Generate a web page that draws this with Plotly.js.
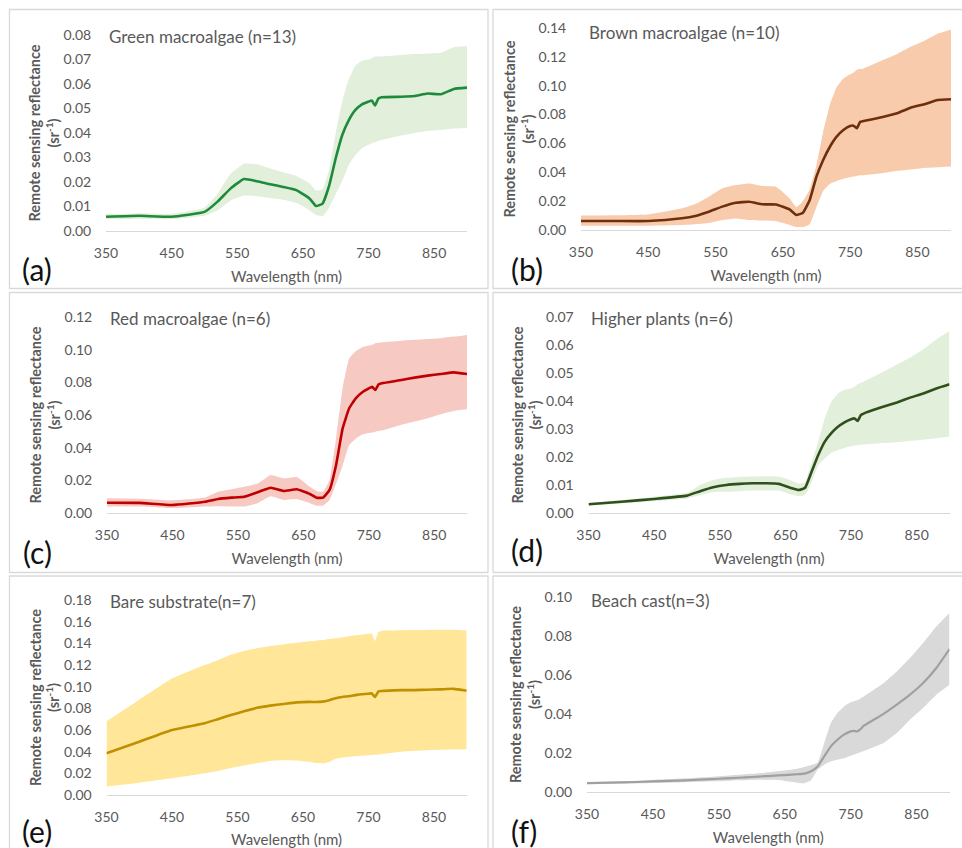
<!DOCTYPE html>
<html>
<head>
<meta charset="utf-8">
<script src="https://cdn.plot.ly/plotly-3.0.1.min.js"></script>
<style>html,body{margin:0;padding:0;background:#fff;}#chart{width:962px;height:848px;}</style>
</head>
<body>
<div id="chart"></div>
<script>
// Wavelength grid (nm)
const wavelength = [350,400,450,500,520,540,560,580,600,620,640,660,670,680,690,700,710,720,730,740,750,755,760,765,770,800,820,840,860,880,900];
const xTicks = [350,450,550,650,750,850];

// (a) Green macroalgae
const greenMean  = [.0058,.0062,.0058,.0078,.0120,.0174,.0212,.0203,.0191,.0180,.0167,.0133,.0102,.0112,.0185,.0297,.0392,.0453,.0494,.0517,.0528,.0533,.0512,.0541,.0546,.0548,.0551,.0561,.0558,.0580,.0585];
const greenUpper = [.0068,.0072,.0070,.0095,.0152,.0235,.0275,.0272,.0255,.0240,.0225,.0195,.0165,.0170,.0250,.0400,.0530,.0620,.0675,.0695,.0700,.0705,.0712,.0712,.0712,.0718,.0722,.0725,.0728,.0750,.0755];
const greenLower = [.0048,.0050,.0048,.0062,.0085,.0125,.0145,.0142,.0135,.0128,.0115,.0085,.0065,.0060,.0095,.0150,.0205,.0270,.0310,.0338,.0352,.0358,.0362,.0368,.0372,.0390,.0400,.0408,.0412,.0418,.0420];

// (b) Brown macroalgae
const brownMean  = [.0062,.0062,.0062,.0081,.0097,.0127,.0162,.0189,.0196,.0178,.0177,.0143,.0104,.0120,.0208,.0370,.0485,.0577,.0647,.0693,.0721,.0723,.0705,.0750,.0755,.0785,.0809,.0848,.0871,.0901,.0906];
const brownUpper = [.0100,.0102,.0108,.0150,.0180,.0230,.0289,.0312,.0323,.0305,.0300,.0220,.0160,.0200,.0280,.0450,.0680,.0870,.0990,.1050,.1080,.1090,.1110,.1115,.1120,.1180,.1220,.1270,.1310,.1360,.1390];
const brownLower = [.0030,.0030,.0030,.0035,.0040,.0048,.0069,.0080,.0069,.0065,.0060,.0035,.0020,.0020,.0040,.0160,.0270,.0320,.0340,.0355,.0365,.0370,.0375,.0380,.0380,.0395,.0410,.0420,.0430,.0435,.0440];

// (c) Red macroalgae
const redMean  = [.0063,.0062,.0049,.0069,.0086,.0094,.0100,.0127,.0155,.0135,.0145,.0116,.0094,.0094,.0141,.0294,.0518,.0641,.0702,.0739,.0763,.0773,.0753,.0788,.0794,.0814,.0829,.0841,.0851,.0861,.0851];
const redUpper = [.0090,.0088,.0078,.0095,.0130,.0145,.0160,.0180,.0233,.0212,.0220,.0160,.0135,.0130,.0200,.0457,.0765,.0947,.0990,.1015,.1025,.1030,.1040,.1042,.1045,.1055,.1060,.1065,.1070,.1080,.1090];
const redLower = [.0040,.0040,.0030,.0040,.0042,.0040,.0040,.0060,.0102,.0080,.0085,.0060,.0045,.0045,.0080,.0180,.0290,.0416,.0455,.0480,.0490,.0493,.0498,.0502,.0505,.0540,.0560,.0580,.0605,.0625,.0635];

// (d) Higher plants
const plantMean  = [.0031,.0040,.0050,.0062,.0078,.0092,.0100,.0104,.0106,.0106,.0104,.0088,.0082,.0090,.0148,.0207,.0255,.0285,.0308,.0324,.0335,.0338,.0329,.0350,.0356,.0380,.0395,.0412,.0427,.0445,.0460];
const plantUpper = [.0035,.0046,.0058,.0072,.0100,.0118,.0126,.0129,.0130,.0131,.0130,.0115,.0105,.0110,.0180,.0255,.0338,.0398,.0427,.0440,.0445,.0450,.0460,.0465,.0470,.0505,.0530,.0555,.0585,.0620,.0650];
const plantLower = [.0027,.0034,.0042,.0052,.0064,.0075,.0076,.0078,.0080,.0080,.0080,.0065,.0060,.0065,.0110,.0171,.0195,.0215,.0225,.0232,.0238,.0240,.0242,.0244,.0245,.0250,.0253,.0258,.0262,.0267,.0273];

// (e) Bare substrate
const bareMean  = [.0385,.0492,.0600,.0662,.0700,.0738,.0772,.0805,.0825,.0840,.0855,.0860,.0858,.0862,.0875,.0893,.0905,.0912,.0922,.0930,.0935,.0938,.0905,.0955,.0960,.0968,.0968,.0972,.0975,.0980,.0963];
const bareUpper = [.0680,.0880,.1075,.1200,.1245,.1295,.1330,.1355,.1375,.1390,.1405,.1420,.1425,.1430,.1440,.1447,.1455,.1465,.1475,.1480,.1488,.1490,.1420,.1505,.1515,.1520,.1522,.1524,.1525,.1526,.1520];
const bareLower = [.0078,.0114,.0154,.0200,.0222,.0250,.0272,.0295,.0315,.0320,.0318,.0305,.0295,.0292,.0305,.0335,.0345,.0352,.0358,.0362,.0368,.0370,.0372,.0375,.0378,.0400,.0408,.0414,.0418,.0420,.0422];

// (f) Beach cast
const castMean  = [.0046,.0049,.0054,.0060,.0063,.0066,.0070,.0073,.0077,.0081,.0085,.0089,.0091,.0094,.0106,.0131,.0183,.0234,.0268,.0294,.0311,.0313,.0311,.0322,.0340,.0401,.0448,.0499,.0559,.0636,.0733];
const castUpper = [.0050,.0054,.0062,.0070,.0074,.0078,.0083,.0088,.0093,.0099,.0106,.0114,.0120,.0128,.0138,.0150,.0251,.0354,.0405,.0439,.0460,.0465,.0470,.0480,.0490,.0559,.0618,.0687,.0764,.0849,.0918];
const castLower = [.0040,.0042,.0046,.0050,.0052,.0055,.0057,.0060,.0062,.0063,.0062,.0052,.0046,.0045,.0060,.0115,.0140,.0158,.0166,.0173,.0186,.0192,.0198,.0204,.0210,.0251,.0302,.0371,.0431,.0499,.0550];

const panelTitles = ['Green macroalgae (n=13)','Brown macroalgae (n=10)','Red macroalgae (n=6)','Higher plants (n=6)','Bare substrate(n=7)','Beach cast(n=3)'];
const panelLetters = ['(a)','(b)','(c)','(d)','(e)','(f)'];
const yTitleText = '<b>Remote sensing reflectance</b><br><b>(sr<sup>-1</sup>)</b>';
const xTitleText = 'Wavelength (nm)';
const yMax = [0.08,0.14,0.12,0.07,0.18,0.10];
const yStep = [0.01,0.02,0.02,0.01,0.02,0.02];

const series = [
  [greenMean, greenUpper, greenLower],
  [brownMean, brownUpper, brownLower],
  [redMean, redUpper, redLower],
  [plantMean, plantUpper, plantLower],
  [bareMean, bareUpper, bareLower],
  [castMean, castUpper, castLower]
];
const lineColors = ['#1e8a3c','#6e300c','#c00000','#2f4f1c','#bf9000','#a0a0a0'];
const bandColors = ['#e2efda','#f8cbad','#f7c9c3','#e2efda','#ffe699','#d9d9d9'];
const lineWidths = [2.6,2.6,2.6,2.6,2.6,2.2];

// layout geometry in pixels
const W = 962, H = 848;
const plotBoxes = [ // [x0,x1,yTop,yBottom]
  [106,467,35,231],
  [581,951,28,230],
  [107,467,317,513],
  [588.5,949.5,317,513],
  [106.5,466.7,600,795],
  [587,949.5,597,792]
];
const frames = [
  [9.5,488,9.5,288.5],[493,970,9.5,288.5],
  [9.5,488,292.5,572.5],[493,970,292.5,572.5],
  [9.5,488,576,860],[493,970,576,860]
];
const titlePos = [[107,36],[587,33],[108,319],[589,319],[108,601],[589,600]];
const letterPos = [[37,269],[527,269],[37,552],[527,550],[37,831],[524,831]];

const px = x => x / W;
const py = y => 1 - y / H;
const gray = '#595959';
const FONT = 'Lato, "Open Sans", sans-serif';

const traces = [];
const layout = {
  width: W, height: H,
  margin: {l:0,r:0,t:0,b:0},
  paper_bgcolor: '#ffffff', plot_bgcolor: 'rgba(0,0,0,0)',
  showlegend: false,
  font: {family: FONT, color: gray},
  shapes: [], annotations: []
};

series.forEach((s, i) => {
  const n = i + 1;
  const xa = 'x' + (n === 1 ? '' : n), ya = 'y' + (n === 1 ? '' : n);
  const [mean, upper, lower] = s;
  traces.push({x: wavelength, y: lower, xaxis: xa, yaxis: ya, type: 'scatter', mode: 'lines',
    line: {width: 0, color: bandColors[i], shape: 'spline', smoothing: 0.35}, hoverinfo: 'skip'});
  traces.push({x: wavelength, y: upper, xaxis: xa, yaxis: ya, type: 'scatter', mode: 'lines',
    fill: 'tonexty', fillcolor: bandColors[i],
    line: {width: 0, color: bandColors[i], shape: 'spline', smoothing: 0.35}, hoverinfo: 'skip'});
  traces.push({x: wavelength, y: mean, xaxis: xa, yaxis: ya, type: 'scatter', mode: 'lines',
    line: {width: lineWidths[i], color: lineColors[i], shape: 'spline', smoothing: 0.35}});

  const b = plotBoxes[i];
  layout['xaxis' + (n === 1 ? '' : n)] = {
    domain: [px(b[0]), px(b[1])], anchor: ya, range: [350, 900],
    tickmode: 'array', tickvals: xTicks, ticktext: xTicks.map(String),
    showgrid: false, zeroline: false, showline: true, linecolor: '#d9d9d9', linewidth: 1.3,
    ticks: 'outside', ticklen: 9, tickcolor: 'rgba(0,0,0,0)',
    tickfont: {family: FONT, size: 14, color: gray}, fixedrange: true,
    title: {text: xTitleText, font: {family: FONT, size: 15, color: gray}, standoff: 11}
  };
  layout['yaxis' + (n === 1 ? '' : n)] = {
    domain: [py(b[3]), py(b[2])], anchor: xa, range: [0, yMax[i]],
    dtick: yStep[i], tick0: 0, tickformat: '.2f',
    showgrid: false, zeroline: false, showline: false,
    ticks: 'outside', ticklen: 11, tickcolor: 'rgba(0,0,0,0)',
    tickfont: {family: FONT, size: 14, color: gray}, fixedrange: true,
    title: {text: yTitleText, font: {family: FONT, size: 14.5, color: gray}, standoff: 0}
  };

  const f = frames[i];
  layout.shapes.push({type: 'rect', xref: 'paper', yref: 'paper',
    x0: px(f[0]), x1: px(f[1]), y0: py(f[3]), y1: py(f[2]),
    line: {color: '#d9d9d9', width: 1.3}, fillcolor: 'rgba(0,0,0,0)', layer: 'below'});

  layout.annotations.push({text: panelTitles[i], xref: 'paper', yref: 'paper',
    x: px(titlePos[i][0]), y: py(titlePos[i][1]), xanchor: 'left', yanchor: 'middle',
    showarrow: false, font: {family: FONT, size: 17, color: gray}});
  layout.annotations.push({text: panelLetters[i], xref: 'paper', yref: 'paper',
    x: px(letterPos[i][0]), y: py(letterPos[i][1]), xanchor: 'center', yanchor: 'middle',
    showarrow: false, font: {family: FONT, size: 30, color: '#111111'}});
});

Plotly.newPlot('chart', traces, layout, {displayModeBar: false, staticPlot: true});
</script>
</body>
</html>
